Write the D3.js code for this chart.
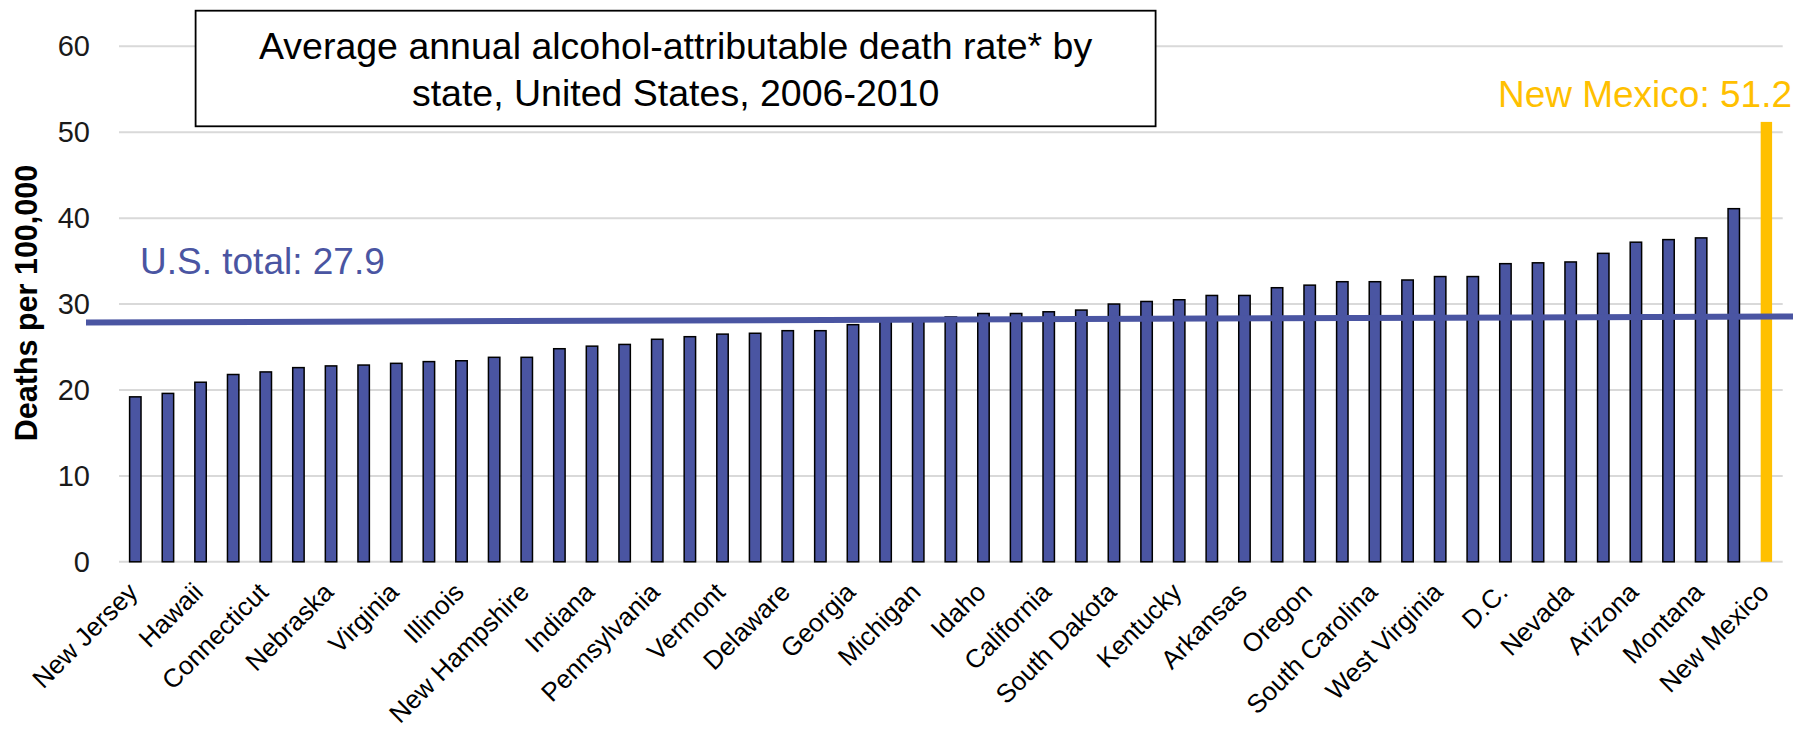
<!DOCTYPE html>
<html>
<head>
<meta charset="utf-8">
<script src="https://cdn.jsdelivr.net/npm/d3@7"></script>
<style>
  html, body { margin: 0; padding: 0; background: #ffffff; }
  svg { display: block; }
  text { font-family: Arial, "Liberation Sans", sans-serif; }
</style>
</head>
<body>
<svg id="chart" width="1796" height="735"></svg>
<script>
// ---------------- data ----------------
const states = [
  "New Jersey", "Utah", "Hawaii", "New York", "Connecticut", "Massachusetts",
  "Nebraska", "Maryland", "Virginia", "Iowa", "Illinois", "Minnesota",
  "New Hampshire", "Rhode Island", "Indiana", "Ohio", "Pennsylvania", "Kansas",
  "Vermont", "Wisconsin", "Delaware", "Texas", "Georgia", "Maine",
  "Michigan", "North Carolina", "Idaho", "Tennessee", "California", "Missouri",
  "South Dakota", "Washington", "Kentucky", "Florida", "Arkansas", "Colorado",
  "Oregon", "Louisiana", "South Carolina", "Alabama", "West Virginia", "Mississippi",
  "D.C.", "Oklahoma", "Nevada", "North Dakota", "Arizona", "Wyoming",
  "Montana", "Alaska", "New Mexico"
];
const rates = [
  19.2, 19.6, 20.9, 21.8, 22.1, 22.6,
  22.8, 22.9, 23.1, 23.3, 23.4, 23.8,
  23.8, 24.8, 25.1, 25.3, 25.9, 26.2,
  26.5, 26.6, 26.9, 26.9, 27.6, 28.0,
  28.1, 28.5, 28.9, 28.9, 29.1, 29.3,
  30.0, 30.3, 30.5, 31.0, 31.0, 31.9,
  32.2, 32.6, 32.6, 32.8, 33.2, 33.2,
  34.7, 34.8, 34.9, 35.9, 37.2, 37.5,
  37.7, 41.1, 51.2
];
const shownLabels = states.filter((d, i) => i % 2 === 0);
const yTicks = [0, 10, 20, 30, 40, 50, 60];
const highlightState = "New Mexico";
const highlightValue = 51.2;
const usTotal = 27.9;
const usLineValues = [27.85, 28.55];   // left / right end of the drawn reference line
const titleLines = [
  "Average annual alcohol-attributable death rate* by",
  "state, United States, 2006-2010"
];
const yTitle = "Deaths per 100,000";

// ---------------- layout ----------------
const svg = d3.select("#chart");
const plotLeft = 119, plotRight = 1782.7, plotTop = 46.3, plotBottom = 561.8;
const barBlue = "#4A55A2";
const gold = "#FFC000";

const x = d3.scaleBand().domain(states).range([plotLeft, plotRight])
  .paddingInner(0.65).paddingOuter(0.325);
const y = d3.scaleLinear().domain([0, 60]).range([plotBottom, plotTop]);

// gridlines
svg.append("g").selectAll("line").data(yTicks).join("line")
  .attr("x1", plotLeft).attr("x2", plotRight)
  .attr("y1", d => y(d)).attr("y2", d => y(d))
  .attr("stroke", "#d9d9d9").attr("stroke-width", 2);

// y axis labels
const yAxis = d3.axisLeft(y).tickValues(yTicks).tickSize(0).tickPadding(0);
const yg = svg.append("g").attr("transform", `translate(${90},0)`).call(yAxis);
yg.select(".domain").remove();
yg.selectAll("text").attr("font-size", 29).attr("fill", "#1a1a1a")
  .attr("font-family", "Arial, 'Liberation Sans', sans-serif");

// y title
svg.append("text")
  .attr("transform", `translate(${37},${303}) rotate(-90)`)
  .attr("text-anchor", "middle")
  .attr("font-size", 30.5).attr("font-weight", "bold").attr("fill", "#000")
  .text(yTitle);

// bars
svg.append("g").selectAll("rect").data(states).join("rect")
  .attr("x", d => x(d))
  .attr("width", x.bandwidth())
  .attr("y", (d, i) => y(rates[i]))
  .attr("height", (d, i) => y(0) - y(rates[i]))
  .attr("fill", d => d === highlightState ? gold : barBlue)
  .attr("stroke", d => d === highlightState ? "none" : "#000")
  .attr("stroke-width", 1.5);

// x labels
const xAxis = d3.axisBottom(x).tickValues(shownLabels).tickSize(0).tickPadding(0);
const xg = svg.append("g").attr("transform", `translate(0,${plotBottom})`).call(xAxis);
xg.select(".domain").remove();
xg.selectAll("text")
  .attr("font-size", 26).attr("fill", "#000")
  .attr("font-family", "Arial, 'Liberation Sans', sans-serif")
  .attr("text-anchor", "end")
  .attr("dy", 0).attr("y", 0)
  .attr("transform", "translate(4,32) rotate(-45)");

// U.S. total line
svg.append("line")
  .attr("x1", 86).attr("x2", 1793)
  .attr("y1", y(usLineValues[0])).attr("y2", y(usLineValues[1]))
  .attr("stroke", barBlue).attr("stroke-width", 6);

svg.append("text")
  .attr("x", 140).attr("y", 273.6)
  .attr("font-size", 37).attr("fill", barBlue)
  .text(`U.S. total: ${usTotal}`);

svg.append("text")
  .attr("x", 1792).attr("y", 107).attr("text-anchor", "end")
  .attr("font-size", 37).attr("fill", gold)
  .text(`${highlightState}: ${highlightValue}`);

// title box
svg.append("rect")
  .attr("x", 195.6).attr("y", 10.7).attr("width", 960).attr("height", 115.6)
  .attr("fill", "#fff").attr("stroke", "#000").attr("stroke-width", 1.8);
svg.append("g").selectAll("text").data(titleLines).join("text")
  .attr("x", 675.6).attr("y", (d, i) => 59.3 + i * 47.1)
  .attr("text-anchor", "middle").attr("font-size", 37.5).attr("fill", "#000")
  .text(d => d);
</script>
</body>
</html>
